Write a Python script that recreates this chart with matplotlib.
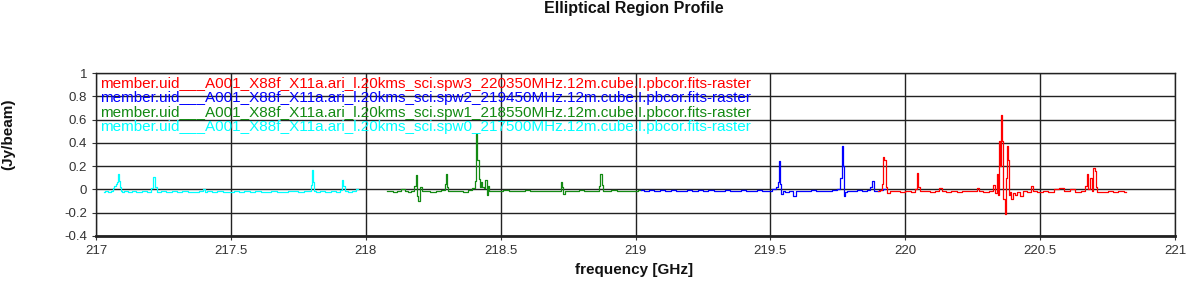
import matplotlib
matplotlib.use("Agg")
import matplotlib.pyplot as plt

# ---- data ----
spw0_freq = [217.030, 217.040, 217.050, 217.060, 217.065, 217.070, 217.075, 217.080, 217.083, 217.086,
             217.090, 217.095, 217.100, 217.110, 217.125, 217.140, 217.160, 217.180, 217.200, 217.210,
             217.215, 217.220, 217.230, 217.250, 217.270, 217.290, 217.310, 217.330, 217.350, 217.370,
             217.390, 217.400, 217.405, 217.420, 217.440, 217.460, 217.480, 217.500, 217.520, 217.540,
             217.560, 217.580, 217.600, 217.620, 217.640, 217.660, 217.680, 217.700, 217.720, 217.740,
             217.760, 217.780, 217.795, 217.800, 217.803, 217.806, 217.810, 217.820, 217.840, 217.860,
             217.880, 217.900, 217.910, 217.915, 217.918, 217.925, 217.940, 217.955, 217.970]
spw0_val = [-0.025, -0.015, -0.018, -0.010, 0.010, 0.030, 0.045, 0.060, 0.135, 0.070,
            0.020, -0.010, -0.020, -0.015, -0.022, -0.012, -0.020, -0.014, -0.018, 0.010,
            0.105, 0.020, -0.020, -0.015, -0.022, -0.014, -0.020, -0.012, -0.018, -0.022,
            -0.015, 0.000, -0.020, -0.016, -0.022, -0.015, -0.018, -0.020, -0.014, -0.019,
            -0.016, -0.022, -0.015, -0.018, -0.020, -0.013, -0.018, -0.021, -0.014, -0.017,
            -0.020, -0.013, -0.015, 0.040, 0.170, 0.060, -0.010, -0.020, -0.014, -0.019,
            -0.013, -0.018, -0.005, 0.080, 0.030, -0.015, -0.020, -0.012, 0.000]

spw1_freq = [218.080, 218.095, 218.110, 218.125, 218.140, 218.150, 218.160, 218.175, 218.183, 218.188,
             218.193, 218.198, 218.205, 218.215, 218.230, 218.250, 218.270, 218.290, 218.297, 218.300,
             218.303, 218.310, 218.330, 218.350, 218.370, 218.390, 218.400, 218.408, 218.412, 218.416,
             218.420, 218.425, 218.430, 218.435, 218.440, 218.447, 218.450, 218.453, 218.460, 218.480,
             218.500, 218.520, 218.540, 218.560, 218.580, 218.600, 218.620, 218.640, 218.660, 218.680,
             218.700, 218.720, 218.725, 218.730, 218.735, 218.745, 218.760, 218.780, 218.800, 218.820,
             218.840, 218.860, 218.868, 218.872, 218.876, 218.880, 218.900, 218.920, 218.940, 218.960,
             218.980, 219.000, 219.020]
spw1_val = [-0.015, -0.012, -0.018, -0.010, 0.005, -0.014, -0.020, -0.010, 0.030, 0.125,
            -0.060, -0.100, 0.020, -0.015, -0.010, -0.018, -0.012, -0.005, 0.050, 0.135,
            0.020, -0.012, -0.015, -0.010, -0.018, -0.008, 0.010, 0.070, 0.480, 0.250,
            0.090, 0.020, 0.060, 0.020, 0.010, 0.080, -0.050, 0.030, -0.015, -0.010,
            -0.014, -0.008, -0.016, -0.010, -0.013, -0.009, -0.015, -0.011, -0.012, -0.014,
            -0.010, -0.013, 0.060, 0.020, -0.035, -0.015, -0.010, -0.014, -0.009, -0.013,
            -0.011, -0.012, 0.030, 0.130, 0.040, -0.010, -0.014, -0.009, -0.012, -0.013,
            -0.010, -0.012, -0.008]

spw2_freq = [219.020, 219.040, 219.060, 219.080, 219.100, 219.120, 219.140, 219.160, 219.180, 219.200,
             219.220, 219.240, 219.260, 219.280, 219.300, 219.320, 219.340, 219.360, 219.380, 219.400,
             219.420, 219.440, 219.460, 219.480, 219.500, 219.515, 219.525, 219.530, 219.534, 219.538,
             219.542, 219.550, 219.560, 219.575, 219.590, 219.600, 219.620, 219.640, 219.660, 219.680,
             219.700, 219.720, 219.740, 219.755, 219.762, 219.766, 219.770, 219.775, 219.780, 219.790,
             219.810, 219.830, 219.850, 219.865, 219.875, 219.880, 219.885, 219.895, 219.910, 219.925]
spw2_val = [-0.005, -0.010, -0.008, -0.012, -0.009, -0.011, -0.007, -0.013, -0.010, -0.008,
            -0.012, -0.009, -0.011, -0.008, -0.012, -0.010, -0.009, -0.011, -0.013, -0.008,
            -0.010, -0.012, -0.009, -0.011, -0.015, 0.000, 0.020, 0.060, 0.240, 0.050,
            -0.040, -0.010, -0.020, -0.015, -0.060, -0.015, -0.010, -0.012, -0.008, -0.011,
            -0.010, -0.013, -0.009, 0.000, 0.100, 0.370, 0.200, -0.060, -0.020, -0.010,
            -0.012, -0.009, -0.011, -0.008, 0.020, 0.070, -0.010, -0.012, -0.005, 0.000]

spw3_freq = [219.900, 219.910, 219.915, 219.920, 219.925, 219.930, 219.935, 219.950, 219.970, 219.990,
             220.010, 220.030, 220.040, 220.045, 220.050, 220.060, 220.080, 220.100, 220.120, 220.130,
             220.140, 220.160, 220.180, 220.200, 220.220, 220.240, 220.260, 220.270, 220.280, 220.300,
             220.320, 220.330, 220.338, 220.342, 220.346, 220.350, 220.354, 220.358, 220.362, 220.366,
             220.370, 220.374, 220.378, 220.382, 220.386, 220.390, 220.396, 220.402, 220.410, 220.420,
             220.430, 220.440, 220.460, 220.470, 220.480, 220.500, 220.520, 220.540, 220.560, 220.580,
             220.600, 220.620, 220.640, 220.660, 220.670, 220.675, 220.680, 220.688, 220.695, 220.700,
             220.706, 220.710, 220.714, 220.720, 220.740, 220.760, 220.780, 220.800, 220.820]
spw3_val = [-0.010, -0.005, 0.050, 0.280, 0.250, 0.020, -0.030, -0.010, -0.015, -0.020,
            -0.012, -0.018, 0.000, 0.145, 0.020, -0.015, -0.010, -0.018, -0.012, 0.010,
            -0.015, -0.020, -0.012, -0.018, -0.014, -0.010, -0.016, 0.010, -0.015, -0.020,
            -0.012, 0.040, -0.030, 0.130, -0.050, 0.420, 0.200, 0.640, 0.420, -0.080,
            -0.210, 0.100, 0.370, 0.250, -0.050, -0.020, -0.080, -0.030, -0.050, -0.020,
            -0.060, -0.010, -0.020, 0.030, -0.015, -0.020, -0.012, -0.018, 0.000, 0.010,
            -0.015, 0.000, -0.018, -0.010, 0.030, 0.130, 0.000, 0.100, -0.010, 0.180,
            0.160, 0.020, -0.020, -0.018, -0.022, -0.014, -0.020, -0.015, -0.018]

series_labels = [
    "member.uid___A001_X88f_X11a.ari_l.20kms_sci.spw3_220350MHz.12m.cube.I.pbcor.fits-raster",
    "member.uid___A001_X88f_X11a.ari_l.20kms_sci.spw2_219450MHz.12m.cube.I.pbcor.fits-raster",
    "member.uid___A001_X88f_X11a.ari_l.20kms_sci.spw1_218550MHz.12m.cube.I.pbcor.fits-raster",
    "member.uid___A001_X88f_X11a.ari_l.20kms_sci.spw0_217500MHz.12m.cube.I.pbcor.fits-raster",
]
series_colors = ["#ff0000", "#0000ff", "#138a13", "#00ffff"]

x_ticks = [217, 217.5, 218, 218.5, 219, 219.5, 220, 220.5, 221]
x_tick_labels = ["217", "217.5", "218", "218.5", "219", "219.5", "220", "220.5", "221"]
y_ticks = [-0.4, -0.2, 0, 0.2, 0.4, 0.6, 0.8, 1]
y_tick_labels = ["-0.4", "-0.2", "0", "0.2", "0.4", "0.6", "0.8", "1"]

# ---- figure ----
plt.rcParams['font.family'] = ['Liberation Sans', 'DejaVu Sans']
fig = plt.figure(figsize=(11.96, 2.94), dpi=100)
ax = fig.add_axes([96/1196, 58/294, (1175-96)/1196, (236-73)/294])

data = [(spw3_freq, spw3_val), (spw2_freq, spw2_val), (spw1_freq, spw1_val), (spw0_freq, spw0_val)]
for (f, v), c in zip(data[::-1], series_colors[::-1]):
    ax.plot(f, v, color=c, lw=0.9, drawstyle="steps-mid", zorder=3)

ax.set_xlim(217, 221)
ax.set_ylim(-0.4, 1)
ax.set_xticks(x_ticks)
ax.set_xticklabels(x_tick_labels)
ax.set_yticks(y_ticks)
ax.set_yticklabels(y_tick_labels)
ax.tick_params(labelsize=9.5, length=3, width=0.8, color="#333333", labelcolor="#333333")
ax.grid(True, color="#222222", lw=1.0, zorder=1)
for s in ax.spines.values():
    s.set_color("#222222")
    s.set_linewidth(1.0)
ax.spines["bottom"].set_linewidth(2.0)

for i, (lab, c) in enumerate(zip(series_labels, series_colors)):
    fig.text(100/1196, 1 - (84 + 14.3*i)/294, lab, color=c, fontsize=11,
             va="center", ha="left", zorder=5)

fig.text(634/1196, 1 - 8.5/294, "Elliptical Region Profile", fontsize=11.5,
         fontweight="bold", ha="center", va="center", color="#111111")
fig.text(634/1196, 1 - 270/294, "frequency [GHz]", fontsize=11,
         fontweight="bold", ha="center", va="center", color="#111111")
fig.text(8/1196, 1 - 134/294, "(Jy/beam)", fontsize=11, rotation=90,
         fontweight="bold", ha="center", va="center", color="#111111")

fig.savefig("out.png", dpi=100)
